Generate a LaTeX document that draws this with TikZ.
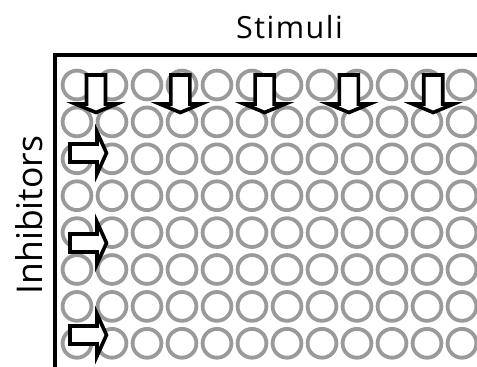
\documentclass[tikz,border=0pt]{standalone}
\usepackage{fontspec}
\setmainfont{Open Sans}
\usepackage{tikz}
\usetikzlibrary{positioning}
\definecolor{wellgray}{HTML}{9A9A9A}

\begin{document}
\begin{tikzpicture}[
    x=1pt, y=-1pt,
    well/.style={circle, draw=wellgray, line width=3.8pt,
                 minimum size=28.8pt, inner sep=0pt},
    frame/.style={line width=3.5pt},
    pointer/.style={draw=black, fill=white, line width=3.6pt, line join=miter},
    axislabel/.style={inner sep=0pt}
]
\useasboundingbox (0,0) rectangle (477,367);

% Wells (8 rows x 12 columns)
\foreach \r in {0,...,7}
  \foreach \c in {0,...,11}
    \node[well] (w-\r-\c) at (77+35*\c, 85+36.9*\r) {};

% Plate edge
\coordinate (plate-tr) at (477,55);
\coordinate (plate-corner) at (55,55);
\coordinate (plate-bl) at (55,367);
\draw[frame] (plate-tr) -- (plate-corner) -- (plate-bl);

% Stimuli arrows
\foreach \k in {0,...,4}
  \draw[pointer] (96+84.3*\k,75) ++(-9.5,0) -- ++(19,0) -- ++(0,29) -- ++(11,0)
    -- ++(-20.5,8.5) -- ++(-20.5,-8.5) -- ++(11,0) -- cycle;

% Inhibitor arrows
\foreach \y in {153,243,335}
  \draw[pointer] (70,\y) ++(0,-9) -- ++(27,0) -- ++(0,-12) -- ++(9.5,21)
    -- ++(-9.5,21) -- ++(0,-12) -- ++(-27,0) -- cycle;

% Labels
\node[axislabel, anchor=base,
      font=\fontsize{30.5}{31}\selectfont\addfontfeatures{LetterSpace=5}]
  (stimuli) at (289.5,38) {Stimuli};
\node[axislabel, anchor=base, rotate=90, font=\fontsize{35.5}{36}\selectfont]
  (inhibitors) at (42,215) {Inhibitors};

\end{tikzpicture}
\end{document}
